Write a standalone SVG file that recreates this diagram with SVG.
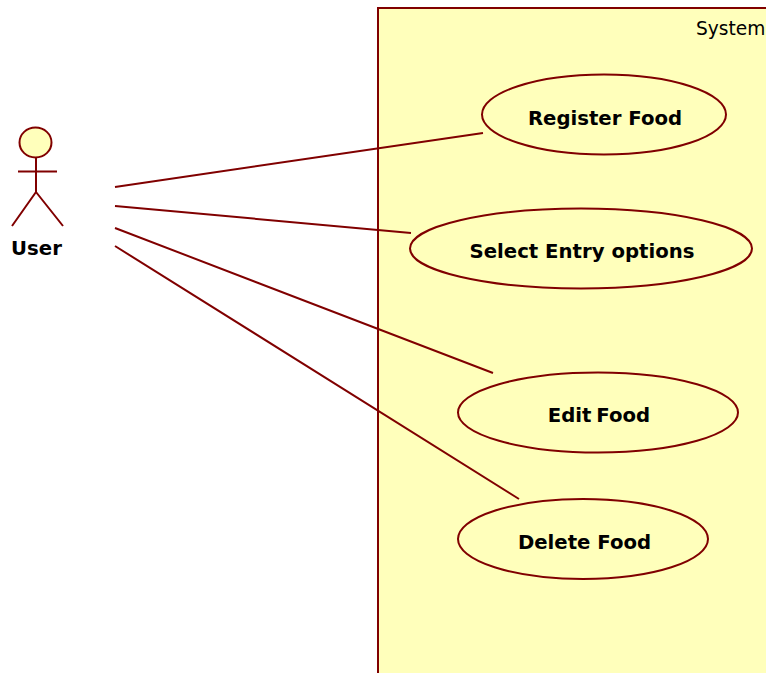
<svg xmlns="http://www.w3.org/2000/svg" width="766" height="673" viewBox="0 0 766 673">
<style>
.l{fill:none;stroke:#800000;stroke-width:2}
.u{fill:#ffffbb;stroke:#800000;stroke-width:2}
.t{font-family:"DejaVu Sans",Verdana,sans-serif;font-weight:bold;font-size:19.7px;fill:#000;text-anchor:middle}
</style>
<rect width="766" height="673" fill="#fff"/>
<g id="system"><path d="M767 8H378V674H767Z" class="u"/><text x="696" y="35" font-family="DejaVu Sans, sans-serif" font-size="18.6">System</text></g>
<g id="connectors">
<path class="l" d="M115 187L483 133M115 206L411 233M115 228L493 373M115 246L519 499"/>
</g>
<g id="user"><ellipse cx="35.500" cy="142.500" rx="16" ry="15" class="u"/><path class="l" d="M36 158V192M18 171.500H57M36 192L12 226M36 192L63 226"/><text class="t" x="36.500" y="255">User</text></g>
<g id="register"><ellipse cx="604" cy="114.500" rx="122" ry="40" class="u"/><text class="t" x="605" y="125">Register Food</text></g>
<g id="select"><ellipse cx="581" cy="248.500" rx="171" ry="40" class="u"/><text class="t" x="582" y="258">Select Entry options</text></g>
<g id="edit"><ellipse cx="598" cy="412.500" rx="140" ry="40" class="u"/><text class="t" x="599" y="422" word-spacing="-2">Edit Food</text></g>
<g id="delete"><ellipse cx="583" cy="539" rx="125" ry="40" class="u"/><text class="t" x="584.500" y="549">Delete Food</text></g>
</svg>
